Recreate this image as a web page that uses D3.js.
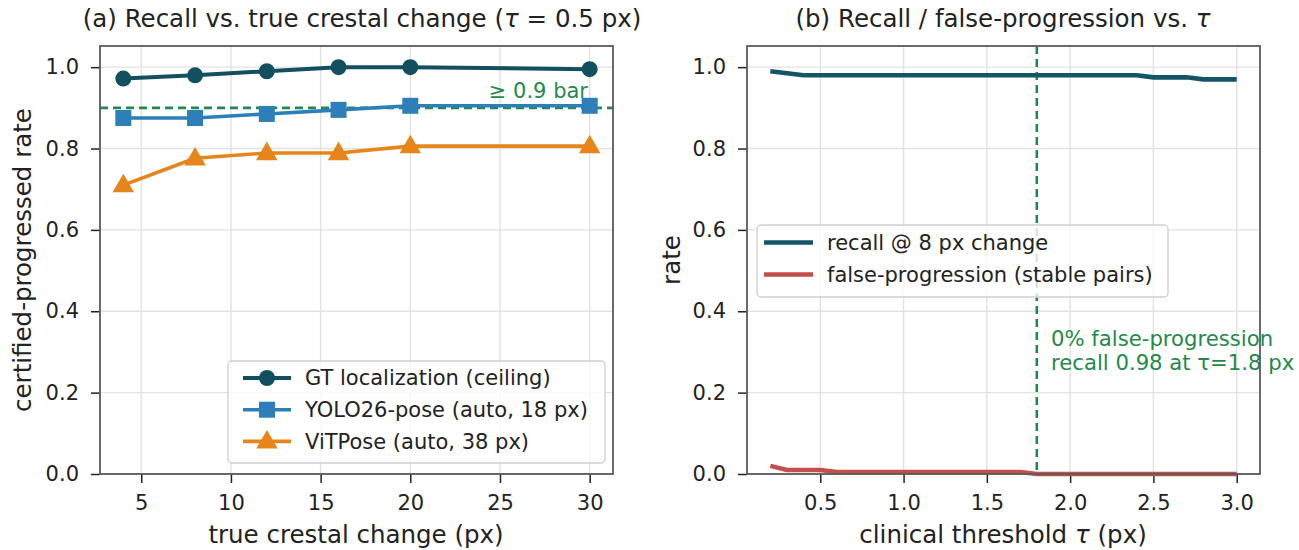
<!DOCTYPE html>
<html>
<head>
<meta charset="utf-8">
<script src="https://cdn.jsdelivr.net/npm/d3@7"></script>
<style>
body { margin: 0; background: #fff; }
svg { font-family: 'DejaVu Sans', sans-serif; }
</style>
</head>
<body>
<svg id="chart" width="1299" height="550"></svg>
<script>
// panel (a)
const changes = [4, 8, 12, 16, 20, 30]
const gtRecall = [0.972, 0.98, 0.99, 1.0, 1.0, 0.995]
const yoloRecall = [0.875, 0.875, 0.885, 0.895, 0.905, 0.905]
const vitRecall = [0.71, 0.776, 0.789, 0.789, 0.806, 0.806]
const xTicksA = [5, 10, 15, 20, 25, 30]

// panel (b)
const taus = [0.2, 0.3, 0.4, 0.5, 0.6, 0.7, 0.8, 0.9, 1.0, 1.1, 1.2, 1.3, 1.4, 1.5, 1.6, 1.7, 1.8, 1.9, 2.0,
    2.1, 2.2, 2.3, 2.4, 2.5, 2.6, 2.7, 2.8, 2.9, 3.0]
const recall8 = [0.99, 0.985, 0.98, 0.98, 0.98, 0.98, 0.98, 0.98, 0.98, 0.98, 0.98, 0.98, 0.98, 0.98, 0.98, 0.98, 0.98, 0.98, 0.98,
    0.98, 0.98, 0.98, 0.98, 0.975, 0.975, 0.975, 0.97, 0.97, 0.97]
const falseProg = [0.02, 0.01, 0.01, 0.01, 0.005, 0.005, 0.005, 0.005, 0.005, 0.005, 0.005, 0.005, 0.005, 0.005, 0.005, 0.005, 0,
    0, 0, 0, 0, 0, 0, 0, 0, 0, 0, 0, 0]
const xTicksB = [0.5, 1.0, 1.5, 2.0, 2.5, 3.0]
const yTicks = [0, 0.2, 0.4, 0.6, 0.8, 1.0]

const svg = d3.select('#chart')
const green = '#1f8a4c'
const spine = '#5a5a5a'
const grid = '#e2e2e2'
const ink = '#222'

function panel(x0, x1, xDomain, xTicks, xFmt) {
    let x = d3.scaleLinear().domain(xDomain).range([x0, x1])
    let y = d3.scaleLinear().domain([0, 1.052]).range([474, 46])
    let g = svg.append('g')

    g.append('g').selectAll('line').data(xTicks).enter().append('line')
        .attr('x1', d => x(d)).attr('x2', d => x(d)).attr('y1', 46).attr('y2', 474)
        .attr('stroke', grid).attr('stroke-width', 1.4)
    g.append('g').selectAll('line').data(yTicks).enter().append('line')
        .attr('x1', x0).attr('x2', x1).attr('y1', d => y(d)).attr('y2', d => y(d))
        .attr('stroke', grid).attr('stroke-width', 1.4)

    let xa = g.append('g').attr('transform', 'translate(0,474)')
        .call(d3.axisBottom(x).tickValues(xTicks).tickFormat(xFmt).tickSize(9).tickPadding(12))
    let ya = g.append('g').attr('transform', 'translate(' + x0 + ',0)')
        .call(d3.axisLeft(y).tickValues(yTicks).tickFormat(d3.format('.1f')).tickSize(9).tickPadding(12))
    for (let a of [xa, ya]) {
        a.select('.domain').remove()
        a.selectAll('line').attr('stroke', ink).attr('stroke-width', 1.5)
        a.selectAll('text').attr('font-size', 21).attr('fill', ink)
            .attr('font-family', 'DejaVu Sans')
    }

    return {x, y, g}
}

function frame(p) {
    let r = p.x.range()
    p.g.append('rect').attr('x', r[0]).attr('y', 46).attr('width', r[1] - r[0]).attr('height', 428)
        .attr('fill', 'none').attr('stroke', spine).attr('stroke-width', 1.8)
}

// ---------- panel (a)
let a = panel(100, 613, [2.7, 31.3], xTicksA, d3.format('d'))

a.g.append('line')
    .attr('x1', 100).attr('x2', 613).attr('y1', a.y(0.9)).attr('y2', a.y(0.9))
    .attr('stroke', green).attr('stroke-width', 2.6).attr('stroke-dasharray', '8,5')
a.g.append('text').attr('x', 588).attr('y', a.y(0.9) - 9.5).attr('text-anchor', 'end')
    .attr('font-size', 21).attr('fill', green).text('≥ 0.9 bar')

let seriesA = [
    {name: 'GT localization (ceiling)', vals: gtRecall, color: '#124f5f', shape: 'circle', w: 4},
    {name: 'YOLO26-pose (auto, 18 px)', vals: yoloRecall, color: '#2c7fb8', shape: 'square', w: 3.6},
    {name: 'ViTPose (auto, 38 px)', vals: vitRecall, color: '#e5851a', shape: 'triangle', w: 3.6},
]

function marker(sel, shape, color) {
    if (shape === 'circle') sel.append('circle').attr('r', 8).attr('fill', color)
    if (shape === 'square') sel.append('rect').attr('x', -8).attr('y', -8).attr('width', 16).attr('height', 16).attr('fill', color)
    if (shape === 'triangle') sel.append('path').attr('d', d3.symbol(d3.symbolTriangle, 200)()).attr('transform', 'translate(0,1)').attr('fill', color)
}

for (let s of seriesA) {
    let line = d3.line().x((d, i) => a.x(changes[i])).y(d => a.y(d))
    a.g.append('path').datum(s.vals).attr('d', line)
        .attr('fill', 'none').attr('stroke', s.color).attr('stroke-width', s.w).attr('stroke-linejoin', 'round')
    a.g.selectAll(null).data(s.vals).enter().append('g')
        .attr('transform', (d, i) => 'translate(' + a.x(changes[i]) + ',' + a.y(d) + ')')
        .each(function () { marker(d3.select(this), s.shape, s.color) })
}
frame(a)

// legend (a)
let la = a.g.append('g')
la.append('rect').attr('x', 228).attr('y', 361).attr('width', 377).attr('height', 102).attr('rx', 4)
    .attr('fill', 'white').attr('fill-opacity', 0.8).attr('stroke', '#d0d0d0').attr('stroke-width', 1.4)
seriesA.forEach((s, i) => {
    let yy = 378 + i * 31.7
    la.append('line').attr('x1', 243).attr('x2', 291).attr('y1', yy).attr('y2', yy)
        .attr('stroke', s.color).attr('stroke-width', s.w)
    let m = la.append('g').attr('transform', 'translate(267,' + yy + ')')
    marker(m, s.shape, s.color)
    la.append('text').attr('x', 305).attr('y', yy).attr('dy', '0.35em').attr('font-size', 21)
        .attr('fill', ink).text(s.name)
})

// ---------- panel (b)
let b = panel(747, 1260, [0.06, 3.14], xTicksB, d3.format('.1f'))

b.g.append('line')
    .attr('x1', b.x(1.8)).attr('x2', b.x(1.8)).attr('y1', 46).attr('y2', 474)
    .attr('stroke', green).attr('stroke-width', 2.6).attr('stroke-dasharray', '8,5')

let seriesB = [
    {name: 'recall @ 8 px change', vals: recall8, color: '#135564'},
    {name: 'false-progression (stable pairs)', vals: falseProg, color: '#c44e4c'},
]
for (let s of seriesB) {
    let line = d3.line().x((d, i) => b.x(taus[i])).y(d => b.y(d))
    b.g.append('path').datum(s.vals).attr('d', line)
        .attr('fill', 'none').attr('stroke', s.color).attr('stroke-width', 4.6)
}

frame(b)
// the note runs past the right spine, as in the original
b.g.append('text').attr('x', 1051).attr('y', 346).attr('font-size', 21.2)
    .attr('fill', green).text('0% false-progression')
b.g.append('text').attr('x', 1051).attr('y', 370).attr('font-size', 21.2)
    .attr('fill', green).text('recall 0.98 at τ=1.8 px')

let lb = b.g.append('g')
lb.append('rect').attr('x', 757).attr('y', 225).attr('width', 411).attr('height', 72).attr('rx', 4)
    .attr('fill', 'white').attr('fill-opacity', 0.8).attr('stroke', '#d0d0d0').attr('stroke-width', 1.4)
seriesB.forEach((s, i) => {
    let yy = 242.5 + i * 32
    lb.append('line').attr('x1', 764).attr('x2', 813).attr('y1', yy).attr('y2', yy)
        .attr('stroke', s.color).attr('stroke-width', 4.6)
    lb.append('text').attr('x', 827).attr('y', yy).attr('dy', '0.35em').attr('font-size', 21)
        .attr('fill', ink).text(s.name)
})

// titles and labels
function label(x, y, size, rot) {
    let t = svg.append('text').attr('x', x).attr('y', y).attr('text-anchor', 'middle')
        .attr('dy', '0.35em').attr('font-size', size).attr('fill', ink)
    if (rot) t.attr('transform', 'rotate(-90,' + x + ',' + y + ')')
    return t
}
let ta = label(362, 18, 24.5)
ta.append('tspan').text('(a) Recall vs. true crestal change (')
ta.append('tspan').attr('font-style', 'italic').text('τ')
ta.append('tspan').text(' = 0.5 px)')
let tb = label(1003, 18, 24.5)
tb.append('tspan').text('(b) Recall / false-progression vs. ')
tb.append('tspan').attr('font-style', 'italic').text('τ')

label(356, 534, 24.5).text('true crestal change (px)')
let xl = label(1003, 534, 24.5)
xl.append('tspan').text('clinical threshold ')
xl.append('tspan').attr('font-style', 'italic').text('τ')
xl.append('tspan').text(' (px)')
label(22, 260, 24.5, true).text('certified-progressed rate')
label(671, 260, 24.5, true).text('rate')
</script>
</body>
</html>
